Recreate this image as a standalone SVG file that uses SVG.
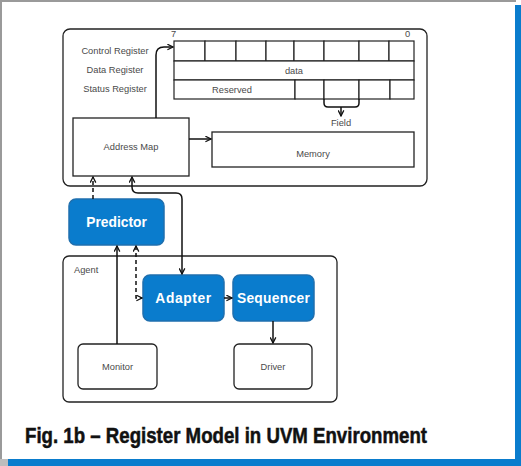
<svg xmlns="http://www.w3.org/2000/svg" width="521" height="466" viewBox="0 0 521 466">
<defs>
<style>
.box{fill:#fff;stroke:#222;stroke-width:1.3}
.blue{fill:#0a7ccd;stroke:#1f6fae;stroke-width:1.5}
.cell{fill:#fff;stroke:#222;stroke-width:1.2}
.lbl{font-family:"Liberation Sans",Arial,sans-serif;font-size:9.3px;fill:#4a4a4a}
.btxt{font-family:"Liberation Sans",Arial,sans-serif;font-size:13.8px;font-weight:bold;fill:#fff}
.ln{fill:none;stroke:#111;stroke-width:1.5}
.dash{fill:none;stroke:#111;stroke-width:1.5;stroke-dasharray:4,3}
</style>
<marker id="ah" viewBox="0 0 10 10" refX="9" refY="5" markerWidth="7" markerHeight="7" orient="auto-start-reverse" markerUnits="userSpaceOnUse">
<path d="M1,1 L9,5 L1,9" fill="none" stroke="#111" stroke-width="1.8"/>
</marker>
</defs>
<rect x="0" y="0" width="521" height="466" fill="#fff"/>
<rect x="0" y="0" width="516" height="2" fill="#9a9a9a"/>
<rect x="0" y="0" width="2" height="460" fill="#9a9a9a"/>
<rect x="515" y="5" width="6" height="461" fill="#0a7ccd"/>
<rect x="8" y="459" width="513" height="7" fill="#0a7ccd"/>
<rect x="0" y="459" width="8" height="7" fill="#bdbdbd"/>

<g id="register-block">
<rect x="63" y="29" width="364" height="157" rx="7" class="box"/>
<text x="171" y="37" class="lbl">7</text>
<text x="405" y="37" class="lbl">0</text>
<text x="115" y="54" class="lbl" text-anchor="middle">Control Register</text>
<text x="115" y="72.5" class="lbl" text-anchor="middle">Data Register</text>
<text x="115" y="91.5" class="lbl" text-anchor="middle">Status Register</text>
</g>
<g id="control-register">
<rect x="174" y="41" width="31" height="20" class="cell"/>
<rect x="205" y="41" width="31" height="20" class="cell"/>
<rect x="236" y="41" width="30" height="20" class="cell"/>
<rect x="266" y="41" width="28" height="20" class="cell"/>
<rect x="294" y="41" width="30" height="20" class="cell"/>
<rect x="324" y="41" width="35" height="20" class="cell"/>
<rect x="359" y="41" width="30" height="20" class="cell"/>
<rect x="389" y="41" width="25" height="20" class="cell"/>
</g>
<g id="data-register">
<rect x="174" y="61" width="240" height="19" class="cell"/>
<text x="294" y="73.5" class="lbl" text-anchor="middle">data</text>
</g>
<g id="status-register">
<rect x="174" y="80" width="121" height="19" class="cell"/>
<text x="232" y="92.5" class="lbl" text-anchor="middle">Reserved</text>
<rect x="295" y="80" width="29" height="19" class="cell"/>
<rect x="324" y="80" width="35" height="19" class="cell"/>
<rect x="359" y="80" width="31" height="19" class="cell"/>
<rect x="390" y="80" width="24" height="19" class="cell"/>
</g>
<g id="field">
<text x="341" y="126" class="lbl" text-anchor="middle">Field</text>
</g>
<g id="address-map">
<rect x="73" y="118" width="116" height="58" class="box"/>
<text x="131" y="150" class="lbl" text-anchor="middle">Address Map</text>
</g>
<g id="memory">
<rect x="212" y="132" width="202" height="35" class="box"/>
<text x="313" y="157" class="lbl" text-anchor="middle">Memory</text>
</g>
<g id="predictor">
<rect x="69" y="199" width="95" height="46" rx="7" class="blue"/>
<text x="116.5" y="227" class="btxt" text-anchor="middle">Predictor</text>
</g>
<g id="agent">
<rect x="63" y="256" width="274" height="146" rx="6" class="box"/>
<text x="74" y="273" class="lbl">Agent</text>
</g>
<g id="adapter">
<rect x="143" y="275" width="81" height="46" rx="7" class="blue"/>
<text x="183.5" y="303" class="btxt" text-anchor="middle" letter-spacing="0.6">Adapter</text>
</g>
<g id="sequencer">
<rect x="233" y="275" width="81" height="46" rx="7" class="blue"/>
<text x="273.5" y="303" class="btxt" text-anchor="middle" letter-spacing="0.3">Sequencer</text>
</g>
<g id="monitor">
<rect x="78" y="344" width="79" height="45" rx="5" class="box"/>
<text x="117.5" y="370" class="lbl" text-anchor="middle">Monitor</text>
</g>
<g id="driver">
<rect x="234" y="344" width="78" height="45" rx="5" class="box"/>
<text x="273" y="370" class="lbl" text-anchor="middle">Driver</text>
</g>

<g id="connectors">
<path d="M324,99 V103 Q324,107 328,107 H355 Q359,107 359,103 V99" class="ln"/>
<path d="M341,107 V116" class="ln" marker-end="url(#ah)"/>
<path d="M156,118 V55 Q156,47 164,47 H173" class="ln" marker-end="url(#ah)"/>
<path d="M189,139 H211" class="ln" marker-end="url(#ah)"/>
<path d="M93,199 V177" class="dash" marker-end="url(#ah)"/>
<path d="M132,177 V187 Q132,193 138,193 H176 Q182,193 182,199 V274" class="ln" marker-start="url(#ah)" marker-end="url(#ah)"/>
<path d="M117,344 V246" class="ln" marker-end="url(#ah)"/>
<path d="M136,246 V298 H142" class="dash" marker-start="url(#ah)" marker-end="url(#ah)"/>
<path d="M224,298 H232" class="ln" marker-end="url(#ah)"/>
<path d="M273,321 V343" class="ln" marker-end="url(#ah)"/>
</g>

<g id="caption">
<text x="25" y="443" font-family="'Liberation Sans',Arial,sans-serif" font-size="21.5" font-weight="bold" fill="#111" stroke="#111" stroke-width="0.5" textLength="402" lengthAdjust="spacingAndGlyphs">Fig. 1b – Register Model in UVM Environment</text>
</g>
</svg>
